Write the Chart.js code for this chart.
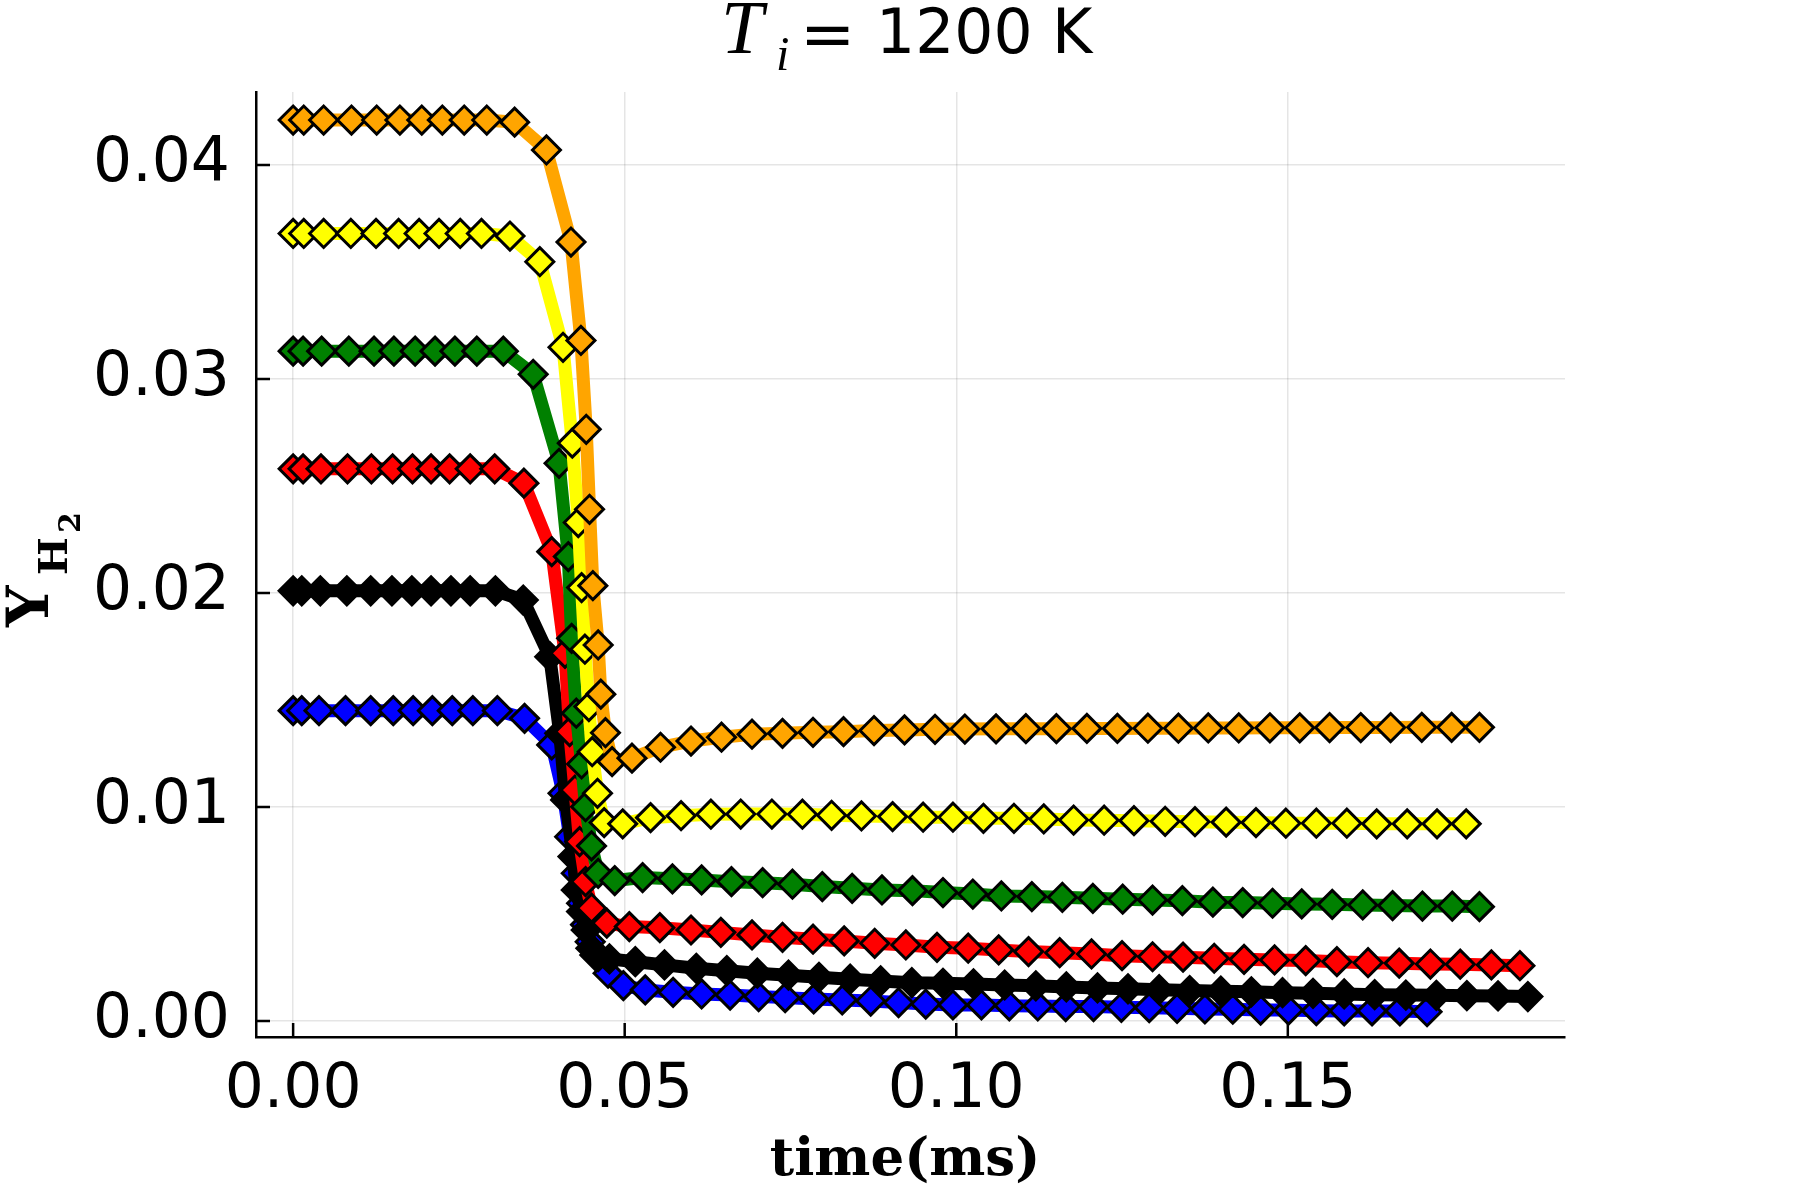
<!DOCTYPE html>
<html>
<head>
<meta charset="utf-8">
<title>T_i = 1200 K</title>
<script src="https://cdn.jsdelivr.net/npm/chart.js@4.4.1/dist/chart.umd.min.js"></script>
<style>
html, body { margin: 0; padding: 0; background: #fff; }
#wrap { width: 1800px; height: 1200px; }
</style>
</head>
<body>
<div id="wrap"><canvas id="chart" width="1800" height="1200"></canvas></div>
<script>
// time (ms) / Y_H2 pairs per run
const tOrange = [0, 0.0016, 0.0046, 0.0088, 0.0126, 0.0161, 0.0194, 0.0225, 0.0258, 0.0292, 0.0334, 0.0382, 0.0419, 0.0434, 0.0442, 0.0447, 0.0452, 0.0460, 0.0464, 0.0471, 0.0481,
    0.0511, 0.0554, 0.0600, 0.0646, 0.0692, 0.0738, 0.0784, 0.0830, 0.0876, 0.0922, 0.0968, 0.1013, 0.1060, 0.1105, 0.1151, 0.1197, 0.1243, 0.1289, 0.1335, 0.1380,
    0.1426, 0.1473, 0.1518, 0.1563, 0.1610, 0.1655, 0.1702, 0.1747, 0.1789];
const yOrange = [0.0421, 0.0421, 0.0421, 0.0421, 0.0421, 0.0421, 0.0421, 0.0421, 0.0421, 0.0421, 0.0420, 0.0407, 0.0364, 0.0318, 0.02765, 0.02391, 0.02034, 0.01757, 0.01527, 0.01347, 0.01212,
    0.01228, 0.01279, 0.01308, 0.01326, 0.01340, 0.01344, 0.01349, 0.01352, 0.01357, 0.01360, 0.01363, 0.01364, 0.01365, 0.01366, 0.01366, 0.01367, 0.01367, 0.01368, 0.01368, 0.01369,
    0.01369, 0.01370, 0.01370, 0.01371, 0.01371, 0.01371, 0.01372, 0.01372, 0.01372];

const tYellow = [0, 0.0016, 0.0046, 0.0087, 0.0125, 0.0159, 0.0190, 0.0220, 0.0252, 0.0284, 0.0327, 0.0372, 0.0407, 0.0421, 0.0430, 0.0435, 0.0440, 0.0446, 0.0451, 0.0459, 0.0469,
    0.0497, 0.0539, 0.0585, 0.0630, 0.0675, 0.0722, 0.0768, 0.0812, 0.0857, 0.0904, 0.0950, 0.0995, 0.1041, 0.1087, 0.1132, 0.1177, 0.1223, 0.1268, 0.1315, 0.1360,
    0.1407, 0.1452, 0.1497, 0.1543, 0.1589, 0.1634, 0.1680, 0.1725, 0.1769];
const yYellow = [0.0368, 0.0368, 0.0368, 0.0368, 0.0368, 0.0368, 0.0368, 0.0368, 0.0368, 0.0368, 0.03668, 0.03548, 0.03148, 0.02700, 0.02329, 0.02025, 0.01737, 0.01469, 0.01258, 0.01064, 0.00927,
    0.00921, 0.00950, 0.00959, 0.00966, 0.00967, 0.00967, 0.00966, 0.00961, 0.00958, 0.00955, 0.00952, 0.00952, 0.00947, 0.00947, 0.00944, 0.00939, 0.00938, 0.00936, 0.00933, 0.00931,
    0.00929, 0.00927, 0.00924, 0.00924, 0.00924, 0.00921, 0.00921, 0.00921, 0.00921];

const tGreen = [0, 0.0015, 0.0043, 0.0084, 0.0122, 0.0152, 0.0184, 0.0214, 0.0244, 0.0277, 0.0317, 0.0362, 0.0401, 0.0415, 0.0420, 0.0427, 0.0435, 0.0441, 0.0450, 0.0460, 0.0485,
    0.0527, 0.0572, 0.0616, 0.0661, 0.0708, 0.0753, 0.0798, 0.0843, 0.0888, 0.0934, 0.0980, 0.1025, 0.1068, 0.1114, 0.1160, 0.1206, 0.1251, 0.1296, 0.1341, 0.1387,
    0.1432, 0.1477, 0.1521, 0.1567, 0.1613, 0.1658, 0.1703, 0.1748, 0.1789];
const yGreen = [0.0313, 0.0313, 0.0313, 0.0313, 0.0313, 0.0313, 0.0313, 0.0313, 0.0313, 0.0313, 0.0313, 0.03022, 0.02606, 0.02170, 0.01788, 0.01438, 0.01201, 0.01001, 0.00818, 0.00690, 0.00656,
    0.00670, 0.00664, 0.00659, 0.00651, 0.00646, 0.00639, 0.00628, 0.00620, 0.00612, 0.00609, 0.00600, 0.00593, 0.00584, 0.00581, 0.00578, 0.00573, 0.00569, 0.00565, 0.00562, 0.00555,
    0.00553, 0.00550, 0.00547, 0.00545, 0.00542, 0.00539, 0.00537, 0.00537, 0.00534];

const tRed = [0, 0.0015, 0.0042, 0.0082, 0.0118, 0.0150, 0.0180, 0.0208, 0.0236, 0.0267, 0.0304, 0.0348, 0.0390, 0.0410, 0.0417, 0.0425, 0.0432, 0.0441, 0.0450, 0.0473,
    0.0507, 0.0553, 0.0600, 0.0645, 0.0692, 0.0738, 0.0784, 0.0831, 0.0877, 0.0924, 0.0971, 0.1018, 0.1064, 0.1109, 0.1156, 0.1204, 0.1250, 0.1296, 0.1342, 0.1389,
    0.1434, 0.1480, 0.1527, 0.1574, 0.1621, 0.1668, 0.1715, 0.1760, 0.1807, 0.1850];
const yRed = [0.0258, 0.0258, 0.0258, 0.0258, 0.0258, 0.0258, 0.0258, 0.0258, 0.0258, 0.0258, 0.0258, 0.02513, 0.02193, 0.01718, 0.01352, 0.01079, 0.00838, 0.00651, 0.00527, 0.00457,
    0.00441, 0.00436, 0.00425, 0.00414, 0.00402, 0.00391, 0.00382, 0.00374, 0.00363, 0.00355, 0.00344, 0.00340, 0.00332, 0.00324, 0.00319, 0.00313, 0.00305, 0.00300, 0.00298, 0.00293,
    0.00288, 0.00285, 0.00282, 0.00277, 0.00272, 0.00270, 0.00266, 0.00265, 0.00262, 0.00258];

const tBlack = [0, 0.0013, 0.0041, 0.0081, 0.0117, 0.0149, 0.0179, 0.0208, 0.0238, 0.0267, 0.0305, 0.0347, 0.0387, 0.0402, 0.0411, 0.0422, 0.0427, 0.0435, 0.0442, 0.0449, 0.0460, 0.0477,
    0.0516, 0.0560, 0.0608, 0.0654, 0.0700, 0.0747, 0.0793, 0.0840, 0.0886, 0.0933, 0.0980, 0.1026, 0.1073, 0.1120, 0.1166, 0.1213, 0.1259, 0.1306, 0.1352, 0.1399,
    0.1445, 0.1492, 0.1538, 0.1585, 0.1631, 0.1678, 0.1724, 0.1770, 0.1817, 0.1862];
const yBlack = [0.0201, 0.0201, 0.0201, 0.0201, 0.0201, 0.0201, 0.0201, 0.0201, 0.0201, 0.0201, 0.0201, 0.01967, 0.01702, 0.01344, 0.01033, 0.00768, 0.00612, 0.00511, 0.00425, 0.00340, 0.00300, 0.00290,
    0.00277, 0.00262, 0.00246, 0.00235, 0.00223, 0.00214, 0.00204, 0.00195, 0.00187, 0.00179, 0.00176, 0.00173, 0.00168, 0.00164, 0.00159, 0.00154, 0.00150, 0.00146, 0.00142, 0.00139,
    0.00136, 0.00132, 0.00129, 0.00126, 0.00123, 0.00121, 0.00120, 0.00118, 0.00117, 0.00114];

const tBlue = [0, 0.0013, 0.0039, 0.0079, 0.0117, 0.0151, 0.0181, 0.0210, 0.0240, 0.0271, 0.0308, 0.0349, 0.0390, 0.0407, 0.0417, 0.0427, 0.0435, 0.0441, 0.0448, 0.0455, 0.0475,
    0.0498, 0.0531, 0.0573, 0.0616, 0.0659, 0.0702, 0.0742, 0.0785, 0.0828, 0.0871, 0.0913, 0.0954, 0.0995, 0.1038, 0.1080, 0.1123, 0.1165, 0.1207, 0.1249, 0.1291,
    0.1333, 0.1375, 0.1417, 0.1459, 0.1501, 0.1543, 0.1585, 0.1627, 0.1669, 0.1710];
const yBlue = [0.0145, 0.0145, 0.0145, 0.0145, 0.0145, 0.0145, 0.0145, 0.0145, 0.0145, 0.0145, 0.0145, 0.01414, 0.01290, 0.01064, 0.00861, 0.00690, 0.00550, 0.00450, 0.00370, 0.00308, 0.00223,
    0.00165, 0.00145, 0.00134, 0.00126, 0.00121, 0.00114, 0.00109, 0.00103, 0.00098, 0.00093, 0.00086, 0.00079, 0.00075, 0.00075, 0.00071, 0.00070, 0.00067, 0.00067, 0.00064, 0.00062,
    0.00059, 0.00056, 0.00055, 0.00051, 0.00051, 0.00048, 0.00047, 0.00047, 0.00047, 0.00043];

const xTicks = [0, 0.05, 0.10, 0.15];
const yTicks = [0, 0.01, 0.02, 0.03, 0.04];
const xMin = -0.0056, xMax = 0.1918;
const yMin = -0.00075, yMax = 0.04341;

// first one is drawn on top
const series = [
    { name: 'orange', color: '#ffa500', t: tOrange, y: yOrange },
    { name: 'yellow', color: '#ffff00', t: tYellow, y: yYellow },
    { name: 'green', color: '#008000', t: tGreen, y: yGreen },
    { name: 'red', color: '#ff0000', t: tRed, y: yRed },
    { name: 'black', color: '#000000', t: tBlack, y: yBlack },
    { name: 'blue', color: '#0000ff', t: tBlue, y: yBlue }
];

const tickFont = { family: 'DejaVu Sans', size: 61.5 };

// title, axis labels and the inward tick marks
const textPlugin = {
    id: 'texts',
    beforeDatasetsDraw(chart) {
        const { ctx, chartArea: a, scales: { x, y } } = chart;
        ctx.save();
        ctx.strokeStyle = '#000';
        ctx.lineWidth = 2.5;
        ctx.beginPath();
        xTicks.forEach(v => {
            const px = x.getPixelForValue(v);
            ctx.moveTo(px, a.bottom);
            ctx.lineTo(px, a.bottom - 14);
        });
        yTicks.forEach(v => {
            const py = y.getPixelForValue(v);
            ctx.moveTo(a.left, py);
            ctx.lineTo(a.left + 14, py);
        });
        ctx.stroke();
        ctx.restore();
    },
    afterDraw(chart) {
        const ctx = chart.ctx;
        ctx.save();
        ctx.fillStyle = '#000';
        ctx.textBaseline = 'alphabetic';
        ctx.textAlign = 'left';

        // title: T_i = 1200 K
        ctx.font = 'italic 76px "Liberation Serif"';
        ctx.fillText('T', 721, 53);
        ctx.font = 'italic 48px "Liberation Serif"';
        ctx.fillText('i', 776, 70);
        ctx.font = '66px "DejaVu Serif"';
        ctx.fillText('=', 800, 56);
        ctx.font = '61.5px "DejaVu Sans"';
        ctx.fillText('1200 K', 876, 53);

        // x label
        ctx.textAlign = 'center';
        ctx.font = 'bold 53px "DejaVu Serif"';
        ctx.fillText('time(ms)', 905, 1175);

        // y label: Y_{H_2}, rotated
        ctx.translate(48, 627);
        ctx.rotate(-Math.PI / 2);
        ctx.textAlign = 'left';
        ctx.font = 'bold 58px "DejaVu Serif"';
        ctx.fillText('Y', 0, 0);
        ctx.font = 'bold 40px "DejaVu Serif"';
        ctx.fillText('H', 52, 19);
        ctx.font = 'bold 30px "DejaVu Serif"';
        ctx.fillText('2', 94, 32);
        ctx.restore();
    }
};

function buildDatasets() {
    return series.map(s => ({
        label: s.name,
        data: s.t.map((t, i) => ({ x: t, y: s.y[i] })),
        showLine: true,
        tension: 0,
        borderColor: s.color,
        backgroundColor: s.color,
        borderWidth: 13,
        borderJoinStyle: 'round',
        borderCapStyle: 'round',
        pointStyle: 'rectRot',
        pointRadius: 14,
        pointHoverRadius: 14,
        pointBackgroundColor: s.color,
        pointBorderColor: '#000',
        pointBorderWidth: 3
    }));
}

const ctx = document.getElementById('chart').getContext('2d');
const chart = new Chart(ctx, {
    type: 'scatter',
    data: { datasets: buildDatasets() },
    options: {
        responsive: false,
        animation: false,
        devicePixelRatio: 1,
        layout: { padding: { left: 0, top: 92, right: 235, bottom: 0 } },
        plugins: {
            legend: { display: false },
            title: { display: false },
            tooltip: { enabled: false }
        },
        scales: {
            x: {
                type: 'linear',
                min: xMin,
                max: xMax,
                afterFit: s => { s.height = 163; },
                afterBuildTicks: s => { s.ticks = xTicks.map(v => ({ value: v })); },
                ticks: {
                    callback: v => v.toFixed(2),
                    font: tickFont,
                    color: '#000',
                    padding: 17,
                    maxRotation: 0,
                    autoSkip: false
                },
                grid: { color: 'rgba(0,0,0,0.1)', lineWidth: 1.5, drawTicks: false },
                border: { color: '#000', width: 2.5 }
            },
            y: {
                type: 'linear',
                min: yMin,
                max: yMax,
                afterFit: s => { s.width = 256; },
                afterBuildTicks: s => { s.ticks = yTicks.map(v => ({ value: v })); },
                ticks: {
                    callback: v => v.toFixed(2),
                    font: tickFont,
                    color: '#000',
                    padding: 26,
                    autoSkip: false
                },
                grid: { color: 'rgba(0,0,0,0.1)', lineWidth: 1.5, drawTicks: false },
                border: { color: '#000', width: 2.5 }
            }
        }
    },
    plugins: [textPlugin]
});
</script>
</body>
</html>
